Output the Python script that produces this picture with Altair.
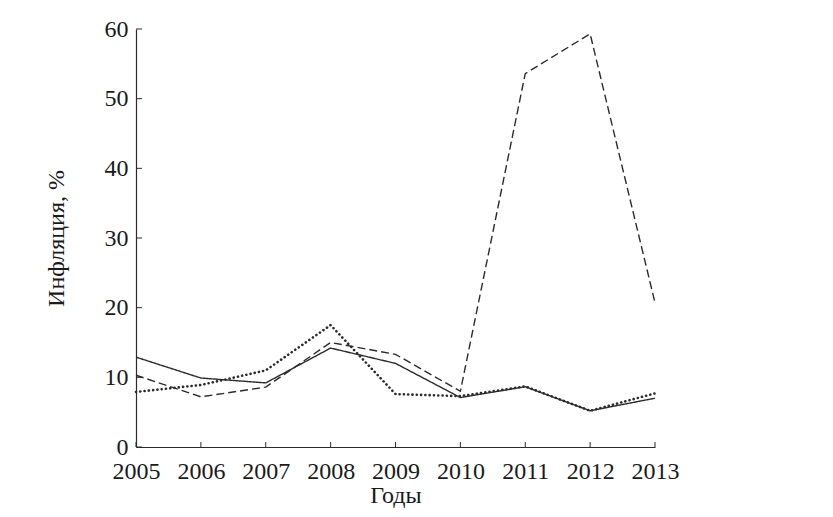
import altair as alt
import pandas as pd

years = [2005, 2006, 2007, 2008, 2009, 2010, 2011, 2012, 2013]
series_solid = [12.9, 9.9, 9.2, 14.2, 12.0, 7.1, 8.65, 5.2, 7.0]
series_dashed = [10.3, 7.2, 8.6, 15.0, 13.3, 8.0, 53.6, 59.3, 20.7]
series_dotted = [7.9, 8.9, 11.0, 17.5, 7.6, 7.3, 8.7, 5.2, 7.7]
series_names = ["Ряд 1", "Ряд 2", "Ряд 3"]
y_ticks = [0, 10, 20, 30, 40, 50, 60]

rows = []
for name, vals in zip(series_names, [series_solid, series_dashed, series_dotted]):
    for yr, v in zip(years, vals):
        rows.append({"Год": yr, "Инфляция": v, "Ряд": name})
df = pd.DataFrame(rows)

FONT = "'Liberation Serif', 'Times New Roman', Times, serif"
INK = "#2b2b2b"

xscale = alt.Scale(domain=[2005, 2013], nice=False, zero=False)
yscale = alt.Scale(domain=[0, 60], nice=False)

base = alt.Chart(df)

x_enc = alt.X("Год:Q", scale=xscale,
              axis=alt.Axis(values=years, format="d", title="Годы", ticks=False,
                            labelPadding=12, titlePadding=0, labelFlush=False))
y_enc = alt.Y("Инфляция:Q", scale=yscale,
              axis=alt.Axis(values=y_ticks, title="Инфляция, %", ticks=False,
                            labelPadding=8, titlePadding=36))

solid_dash = base.transform_filter(alt.datum["Ряд"] != series_names[2]).mark_line(
    color=INK, strokeWidth=1.4).encode(
    x=x_enc, y=y_enc,
    strokeDash=alt.StrokeDash("Ряд:N", scale=alt.Scale(domain=series_names[:2],
                              range=[[1, 0], [8, 4]]), legend=None),
)
dotted = base.transform_filter(alt.datum["Ряд"] == series_names[2]).mark_line(
    color=INK, strokeWidth=2.6, strokeDash=[0.1, 4.2], strokeCap="round").encode(
    x=alt.X("Год:Q", scale=xscale), y=alt.Y("Инфляция:Q", scale=yscale),
)

xt = alt.Chart(pd.DataFrame({"Год": years})).mark_rule(color=INK, strokeWidth=1).encode(
    x=alt.X("Год:Q", scale=xscale),
    y=alt.value(418), y2=alt.value(413),
)
yt = alt.Chart(pd.DataFrame({"v": y_ticks})).mark_rule(color=INK, strokeWidth=1).encode(
    y=alt.Y("v:Q", scale=yscale),
    x=alt.value(0), x2=alt.value(6),
)

chart = alt.layer(solid_dash, dotted, xt, yt).properties(
    width=519, height=418,
    autosize=alt.AutoSizeParams(type="none"),
    padding={"left": 128, "top": 21, "right": 170, "bottom": 70},
).configure_view(stroke=None).configure_axis(
    grid=False, domainColor=INK, domainWidth=1.2,
    labelFont=FONT, labelFontSize=24, labelColor="#1a1a1a",
    titleFont=FONT, titleFontSize=24, titleFontWeight="normal", titleColor="#1a1a1a",
)

chart.save("out.html", embed_options={"renderer": "svg", "actions": False})
